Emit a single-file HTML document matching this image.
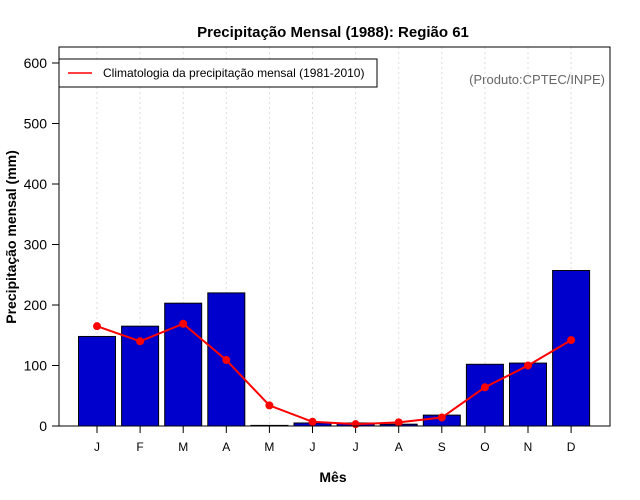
<!DOCTYPE html>
<html><head><meta charset="utf-8"><style>
body{margin:0;background:#fff;}
svg{display:block;font-family:"Liberation Sans","DejaVu Sans",sans-serif;}
</style></head><body>
<svg id="chart" width="640" height="500">
<text x="333" y="37" text-anchor="middle" font-size="15" font-weight="bold">Precipitação Mensal (1988): Região 61</text>
<text x="333" y="482" text-anchor="middle" font-size="14" font-weight="bold">Mês</text>
<text transform="translate(16,237) rotate(-90)" text-anchor="middle" font-size="14" font-weight="bold">Precipitação mensal (mm)</text>
<text x="605" y="84" text-anchor="end" font-size="13" fill="#666">(Produto:CPTEC/INPE)</text>
<g id="grid"></g><g id="bars"></g><g id="axes"></g><g id="line"></g>
<rect x="59" y="47" width="551" height="379" fill="none" stroke="#000"/>
<g>
<rect x="59" y="59" width="318" height="28" fill="#fff" stroke="#000"/>
<line x1="68" y1="73" x2="92" y2="73" stroke="red" stroke-width="1.5"/>
<text x="103" y="77" font-size="12">Climatologia da precipitação mensal (1981-2010)</text>
</g>
</svg>
<script>
const months=["J","F","M","A","M","J","J","A","S","O","N","D"];
const precip=[148,165,203,220,1,5,5,3,18,102,104,257];
const climatology=[165,140,169,109,34,7,3,6,14,64,100,142];
const yTicks=[0,100,200,300,400,500,600];
const NS="http://www.w3.org/2000/svg";
const x=i=>97+i*43.1;
const y=v=>426-v*(363/600);
function mk(t,a,p){const e=document.createElementNS(NS,t);for(const k in a)e.setAttribute(k,a[k]);p.appendChild(e);return e;}
const G=document.getElementById('grid'),B=document.getElementById('bars'),A=document.getElementById('axes'),L=document.getElementById('line');
months.forEach((m,i)=>{
 const g=mk('line',{x1:x(i),x2:x(i),y1:47,y2:426,stroke:'#ddd','stroke-dasharray':'2,3'},G);
 
 
 const r=mk('rect',{x:x(i)-18.5,y:y(precip[i]),width:37,height:426-y(precip[i]),fill:'#0000cd',stroke:'#000','stroke-width':1},B);
 
 
 const t=mk('line',{x1:x(i),x2:x(i),y1:426,y2:433,stroke:'#000'},A);
 
 
 const l=mk('text',{x:x(i),y:451,'text-anchor':'middle','font-size':12},A);l.textContent=m;
 
 
});
yTicks.forEach(v=>{
 const t=mk('line',{x1:52,x2:59,y1:y(v),y2:y(v),stroke:'#000'},A);
 
 
 const l=mk('text',{x:47,y:y(v)+5,'text-anchor':'end','font-size':14},A);l.textContent=v;
 
 
});
const pl=mk('polyline',{points:climatology.map((v,i)=>x(i)+','+y(v)).join(' '),fill:'none',stroke:'red','stroke-width':2},L);


climatology.forEach((v,i)=>{
 const c=mk('circle',{cx:x(i),cy:y(v),r:4,fill:'red'},L);
 
 
});
</script>
</body></html>
